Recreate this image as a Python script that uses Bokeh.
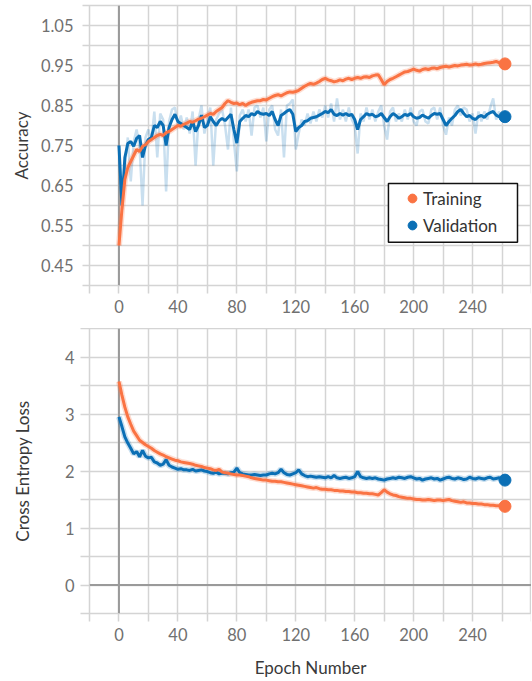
from bokeh.plotting import figure
from bokeh.layouts import column
from bokeh.models import FixedTicker, Span, Legend, LegendItem, Range1d, BoxAnnotation
from bokeh.embed import file_html
from bokeh.resources import INLINE

# ---------------- data ----------------
EPOCHS = list(range(0, 264, 2))

TRAIN_ACC = [
    0.50, 0.59, 0.665, 0.695, 0.71, 0.725, 0.74, 0.735, 0.748, 0.752, 0.76, 0.765,
    0.77, 0.775, 0.778, 0.775, 0.782, 0.785, 0.79, 0.795, 0.80, 0.798, 0.803, 0.806,
    0.81, 0.808, 0.812, 0.816, 0.818, 0.822, 0.826, 0.83, 0.828, 0.835, 0.84, 0.845,
    0.855, 0.862, 0.858, 0.855, 0.856, 0.852, 0.855, 0.85, 0.855, 0.858, 0.86, 0.862,
    0.862, 0.865, 0.864, 0.868, 0.872, 0.875, 0.877, 0.874, 0.878, 0.882, 0.884, 0.883,
    0.885, 0.888, 0.893, 0.898, 0.902, 0.905, 0.903, 0.906, 0.91, 0.915, 0.918, 0.914,
    0.912, 0.909, 0.911, 0.914, 0.912, 0.916, 0.918, 0.915, 0.918, 0.92, 0.918, 0.921,
    0.922, 0.92, 0.924, 0.926, 0.927, 0.915, 0.902, 0.91, 0.915, 0.918, 0.922, 0.926,
    0.93, 0.934, 0.935, 0.938, 0.941, 0.938, 0.936, 0.94, 0.942, 0.94, 0.943, 0.944,
    0.942, 0.945, 0.947, 0.948, 0.946, 0.948, 0.95, 0.949, 0.951, 0.952, 0.953, 0.951,
    0.952, 0.954, 0.952, 0.953, 0.955, 0.956, 0.957, 0.958, 0.96, 0.957, 0.956, 0.954,
]

VAL_ACC = [
    0.75, 0.60, 0.72, 0.755, 0.76, 0.748, 0.768, 0.775, 0.72, 0.75, 0.765, 0.77,
    0.80, 0.795, 0.81, 0.80, 0.75, 0.795, 0.815, 0.828, 0.81, 0.805, 0.80, 0.795,
    0.79, 0.81, 0.785, 0.80, 0.826, 0.795, 0.80, 0.822, 0.81, 0.80, 0.812, 0.818,
    0.812, 0.82, 0.828, 0.79, 0.756, 0.81, 0.818, 0.825, 0.822, 0.83, 0.826, 0.835,
    0.83, 0.828, 0.83, 0.825, 0.835, 0.815, 0.80, 0.825, 0.83, 0.836, 0.84, 0.828,
    0.785, 0.795, 0.80, 0.81, 0.812, 0.818, 0.82, 0.822, 0.826, 0.83, 0.835, 0.832,
    0.84, 0.828, 0.825, 0.83, 0.826, 0.83, 0.825, 0.828, 0.815, 0.79, 0.815, 0.822,
    0.83, 0.826, 0.828, 0.822, 0.824, 0.83, 0.82, 0.81, 0.822, 0.83, 0.825, 0.818,
    0.822, 0.828, 0.825, 0.83, 0.822, 0.818, 0.82, 0.826, 0.822, 0.818, 0.825, 0.83,
    0.828, 0.83, 0.815, 0.80, 0.81, 0.818, 0.825, 0.835, 0.84, 0.83, 0.822, 0.825,
    0.818, 0.815, 0.822, 0.825, 0.82, 0.828, 0.832, 0.835, 0.826, 0.822, 0.825, 0.822,
]

VAL_ACC_RAW = [
    0.75, 0.59, 0.70, 0.77, 0.66, 0.76, 0.79, 0.745, 0.60, 0.77, 0.79, 0.76,
    0.835, 0.72, 0.83, 0.815, 0.635, 0.81, 0.84, 0.845, 0.80, 0.825, 0.79, 0.82,
    0.78, 0.835, 0.70, 0.815, 0.85, 0.78, 0.815, 0.845, 0.70, 0.815, 0.83, 0.84,
    0.80, 0.74, 0.845, 0.76, 0.685, 0.825, 0.84, 0.81, 0.84, 0.775, 0.845, 0.85,
    0.82, 0.845, 0.76, 0.84, 0.85, 0.79, 0.775, 0.84, 0.72, 0.85, 0.855, 0.865,
    0.74, 0.78, 0.815, 0.80, 0.83, 0.805, 0.835, 0.81, 0.84, 0.82, 0.85, 0.82,
    0.855, 0.81, 0.868, 0.815, 0.84, 0.81, 0.845, 0.815, 0.80, 0.73, 0.83, 0.81,
    0.845, 0.815, 0.84, 0.81, 0.835, 0.85, 0.80, 0.765, 0.835, 0.845, 0.81, 0.83,
    0.81, 0.84, 0.815, 0.845, 0.81, 0.80, 0.835, 0.84, 0.81, 0.805, 0.84, 0.845,
    0.815, 0.845, 0.80, 0.777, 0.82, 0.80, 0.84, 0.85, 0.825, 0.845, 0.84, 0.81,
    0.83, 0.78, 0.835, 0.81, 0.835, 0.815, 0.845, 0.868, 0.815, 0.835, 0.81, 0.825,
]

TRAIN_LOSS = [
    3.57, 3.33, 3.12, 2.95, 2.82, 2.70, 2.62, 2.54, 2.50, 2.46, 2.43, 2.40,
    2.36, 2.33, 2.30, 2.28, 2.25, 2.23, 2.21, 2.19, 2.18, 2.16, 2.15, 2.14,
    2.13, 2.12, 2.10, 2.09, 2.08, 2.06, 2.05, 2.04, 2.02, 2.01, 2.03, 1.98,
    1.97, 1.96, 1.95, 1.94, 1.93, 1.93, 1.92, 1.91, 1.90, 1.88, 1.87, 1.86,
    1.85, 1.84, 1.84, 1.83, 1.82, 1.82, 1.81, 1.81, 1.80, 1.79, 1.78, 1.77,
    1.76, 1.75, 1.74, 1.73, 1.72, 1.71, 1.70, 1.71, 1.69, 1.68, 1.68, 1.67,
    1.67, 1.66, 1.66, 1.65, 1.65, 1.64, 1.64, 1.63, 1.63, 1.62, 1.62, 1.61,
    1.61, 1.60, 1.60, 1.59, 1.58, 1.62, 1.67, 1.63, 1.60, 1.58, 1.57, 1.55,
    1.54, 1.53, 1.52, 1.52, 1.51, 1.50, 1.50, 1.49, 1.49, 1.50, 1.49, 1.48,
    1.49, 1.49, 1.48, 1.49, 1.50, 1.48, 1.47, 1.46, 1.45, 1.46, 1.44, 1.44,
    1.43, 1.43, 1.42, 1.42, 1.41, 1.41, 1.40, 1.40, 1.39, 1.39, 1.38, 1.38,
]

VAL_LOSS = [
    2.95, 2.78, 2.60, 2.49, 2.40, 2.30, 2.34, 2.25, 2.36, 2.26, 2.23, 2.24,
    2.16, 2.14, 2.10, 2.12, 2.20, 2.10, 2.07, 2.05, 2.03, 2.04, 2.02, 2.02,
    2.01, 2.03, 2.00, 2.01, 2.02, 2.00, 1.99, 1.97, 1.96, 1.98, 1.95, 1.96,
    1.96, 1.95, 1.97, 1.98, 2.05, 1.97, 1.95, 1.94, 1.93, 1.93, 1.94, 1.93,
    1.92, 1.93, 1.93, 1.95, 1.96, 1.95, 1.97, 2.03, 1.97, 1.94, 1.93, 1.95,
    1.97, 2.02, 1.95, 1.92, 1.90, 1.91, 1.90, 1.89, 1.90, 1.89, 1.88, 1.90,
    1.88, 1.92, 1.88, 1.87, 1.88, 1.89, 1.87, 1.88, 1.90, 1.99, 1.90, 1.88,
    1.87, 1.88, 1.87, 1.88, 1.86, 1.85, 1.84, 1.86, 1.87, 1.88, 1.87, 1.89,
    1.88, 1.87, 1.89, 1.90, 1.88, 1.86, 1.87, 1.84, 1.86, 1.87, 1.88, 1.86,
    1.87, 1.84, 1.86, 1.88, 1.89, 1.87, 1.86, 1.88, 1.87, 1.85, 1.86, 1.89,
    1.87, 1.86, 1.88, 1.87, 1.86, 1.88, 1.89, 1.86, 1.87, 1.88, 1.85, 1.84,
]

SERIES_NAMES = ["Training", "Validation"]
X_MAJOR = [0, 40, 80, 120, 160, 200, 240]
X_MINOR = [-20, 20, 60, 100, 140, 180, 220, 260, 280]
ACC_MAJOR = [0.45, 0.55, 0.65, 0.75, 0.85, 0.95, 1.05]
ACC_MINOR = [0.40, 0.50, 0.60, 0.70, 0.80, 0.90, 1.00, 1.10]
LOSS_MAJOR = [0, 1, 2, 3, 4]
LOSS_MINOR = [-0.5, 0.5, 1.5, 2.5, 3.5, 4.5]

# ---------------- style ----------------
ORANGE = "#FA7343"
BLUE = "#0B6FB5"
GRID = "#d4d4d4"
ZERO = "#9a9a9a"
FONT = "Lato"
TICK_COLOR = "#707070"
LABEL_COLOR = "#3a3a3a"


def style(p, ymaj, ymin, ytick_out, ystandoff, ylab_standoff):
    p.xaxis.ticker = FixedTicker(ticks=X_MAJOR, minor_ticks=X_MINOR)
    p.yaxis.ticker = FixedTicker(ticks=ymaj, minor_ticks=ymin)
    for ax in list(p.xaxis) + list(p.yaxis):
        ax.axis_line_color = None
        ax.major_tick_line_color = GRID
        ax.minor_tick_line_color = GRID
        ax.major_tick_line_width = 1.5
        ax.minor_tick_line_width = 1.5
        ax.major_tick_in = 0
        ax.minor_tick_in = 0
        ax.major_label_text_font = FONT
        ax.major_label_text_font_size = "16.5px"
        ax.major_label_text_color = TICK_COLOR
        ax.axis_label_text_font = FONT
        ax.axis_label_text_font_style = "normal"
        ax.axis_label_text_font_size = "17px"
        ax.axis_label_text_color = LABEL_COLOR
    for ax in p.xaxis:
        ax.major_tick_out = 8
        ax.minor_tick_out = 8
        ax.major_label_standoff = 6
    for ax in p.yaxis:
        ax.major_tick_out = ytick_out
        ax.minor_tick_out = ytick_out
        ax.major_label_standoff = ystandoff
        ax.axis_label_standoff = ylab_standoff
    for g in list(p.xgrid) + list(p.ygrid):
        g.grid_line_color = GRID
        g.grid_line_width = 1.5
        g.minor_grid_line_color = GRID
        g.minor_grid_line_width = 1.5
    p.outline_line_color = GRID
    p.outline_line_width = 1.5
    p.background_fill_color = "white"
    p.border_fill_color = "white"


# ---------------- accuracy ----------------
top = figure(width=531, height=328, x_range=Range1d(-20, 280), y_range=Range1d(0.40, 1.10),
             output_backend="svg", toolbar_location=None,
             min_border_left=89, min_border_right=0, min_border_top=5, min_border_bottom=43)
style(top, ACC_MAJOR, ACC_MINOR, 7, 9, 6)
top.yaxis.axis_label = "Accuracy"
top.add_layout(Span(location=0, dimension="height", line_color=ZERO, line_width=2, level="underlay"))

top.line(EPOCHS, VAL_ACC_RAW, line_color=BLUE, line_alpha=0.22, line_width=2.5)
top.line(EPOCHS, TRAIN_ACC, line_color=ORANGE, line_alpha=0.25, line_width=6)
top.line(EPOCHS, VAL_ACC, line_color=BLUE, line_width=3)
top.line(EPOCHS, TRAIN_ACC, line_color=ORANGE, line_width=3)
end_t = top.scatter([EPOCHS[-1]], [TRAIN_ACC[-1]], size=12, color=ORANGE)
end_v = top.scatter([EPOCHS[-1]], [VAL_ACC[-1]], size=12, color=BLUE)

# legend frame (white box with dark border) behind the legend entries
top.add_layout(BoxAnnotation(left=182.9, right=270.5, bottom=0.508, top=0.655,
                             fill_color="white", fill_alpha=1,
                             line_color="#111111", line_width=1.5, line_alpha=1))
legend = Legend(items=[LegendItem(label=SERIES_NAMES[0], renderers=[end_t]),
                       LegendItem(label=SERIES_NAMES[1], renderers=[end_v])],
                location=(312, 49))
legend.border_line_color = None
legend.background_fill_alpha = 0
legend.label_text_font = FONT
legend.label_text_font_size = "17px"
legend.label_text_color = "#333333"
legend.glyph_width = 22
legend.glyph_height = 22
legend.label_height = 22
legend.label_standoff = -4
legend.padding = 6
legend.spacing = 5
legend.margin = 0
top.add_layout(legend)

# ---------------- loss ----------------
bot = figure(width=531, height=352, x_range=Range1d(-20, 280), y_range=Range1d(-0.5, 4.5),
             output_backend="svg", toolbar_location=None,
             min_border_left=82, min_border_right=0, min_border_top=0, min_border_bottom=67)
style(bot, LOSS_MAJOR, LOSS_MINOR, 9, 6, 29)
bot.yaxis.axis_label = "Cross Entropy Loss"
bot.xaxis.axis_label = "Epoch Number"
bot.xaxis.axis_label_standoff = 13
bot.add_layout(Span(location=0, dimension="height", line_color=ZERO, line_width=2, level="underlay"))
bot.add_layout(Span(location=0, dimension="width", line_color=ZERO, line_width=2, level="underlay"))

bot.line(EPOCHS, VAL_LOSS, line_color=BLUE, line_alpha=0.22, line_width=6)
bot.line(EPOCHS, TRAIN_LOSS, line_color=ORANGE, line_alpha=0.25, line_width=6)
bot.line(EPOCHS, VAL_LOSS, line_color=BLUE, line_width=3)
bot.line(EPOCHS, TRAIN_LOSS, line_color=ORANGE, line_width=3)
bot.scatter([EPOCHS[-1]], [TRAIN_LOSS[-1]], size=12, color=ORANGE)
bot.scatter([EPOCHS[-1]], [VAL_LOSS[-1]], size=12, color=BLUE)

layout = column(top, bot, spacing=0)
open("out.html", "w").write(file_html(layout, INLINE))
